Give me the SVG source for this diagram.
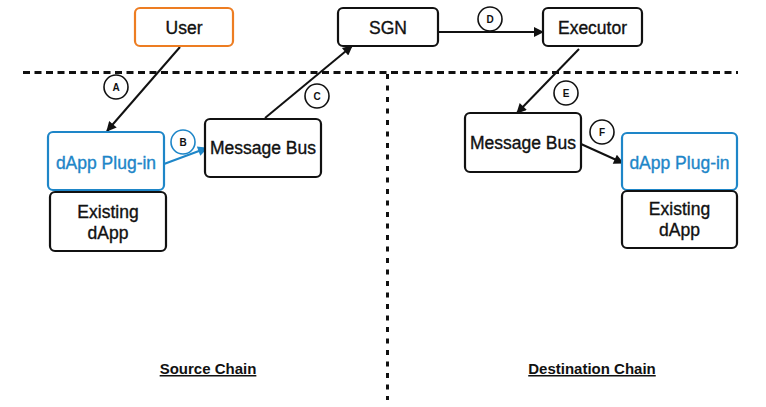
<svg xmlns="http://www.w3.org/2000/svg" width="766" height="407" viewBox="0 0 766 407">
<defs>
<style>
.box{fill:#fff;stroke:#111;stroke-width:2.2}
.orange{stroke:#ED7D22}
.blue{stroke:#1E86C8}
.t{font-family:"Liberation Sans",Arial,sans-serif;font-size:17.5px;fill:#111;stroke:#111;stroke-width:0.35;text-anchor:middle}
.tb{fill:#1E86C8;stroke:#1E86C8}
.c{fill:#fff;stroke:#111;stroke-width:1.6}
.cb{stroke:#1E86C8}
.cl{font-family:"Liberation Sans",Arial,sans-serif;font-size:10px;font-weight:bold;fill:#111;text-anchor:middle}
.ln{stroke:#111;stroke-width:2;fill:none}
.lb{stroke:#1E86C8}
.lab{font-family:"Liberation Sans",Arial,sans-serif;font-size:15px;font-weight:bold;fill:#111;text-anchor:middle;text-decoration:underline}
</style>
<marker id="ah" viewBox="0 0 10 10" refX="9" refY="5" markerWidth="6" markerHeight="5" orient="auto" markerUnits="strokeWidth">
<path d="M0,0 L10,5 L0,10 z" fill="#111"/>
</marker>
<marker id="ahb" viewBox="0 0 10 10" refX="9" refY="5" markerWidth="6" markerHeight="5" orient="auto" markerUnits="strokeWidth">
<path d="M0,0 L10,5 L0,10 z" fill="#1E86C8"/>
</marker>
</defs>
<rect width="766" height="407" fill="#fff"/>

<g id="dividers">
<line x1="23" y1="72.5" x2="738" y2="72.5" stroke="#111" stroke-width="3" stroke-dasharray="7 4.5"/>
<line x1="387.5" y1="74" x2="387.5" y2="400" stroke="#111" stroke-width="3" stroke-dasharray="5 6.5"/>
</g>

<g id="connectors">
<line class="ln" x1="180" y1="47" x2="107" y2="131" marker-end="url(#ah)"/>
<line class="ln lb" x1="164" y1="164" x2="207" y2="148" marker-end="url(#ahb)"/>
<line class="ln" x1="265" y1="118" x2="352" y2="46" marker-end="url(#ah)"/>
<line class="ln" x1="438" y1="32" x2="543" y2="32" marker-end="url(#ah)"/>
<line class="ln" x1="579" y1="49" x2="517" y2="113" marker-end="url(#ah)"/>
<line class="ln" x1="581" y1="144" x2="623" y2="163" marker-end="url(#ah)"/>
</g>

<g id="labels-circles">
<g id="circle-A"><circle class="c" cx="116" cy="87" r="12"/><text class="cl" x="116" y="90.5">A</text></g>
<g id="circle-B"><circle class="c cb" cx="183" cy="142" r="12"/><text class="cl" x="183" y="145.5">B</text></g>
<g id="circle-C"><circle class="c" cx="317" cy="96" r="12"/><text class="cl" x="317" y="99.5">C</text></g>
<g id="circle-D"><circle class="c" cx="490" cy="19" r="12"/><text class="cl" x="490" y="22.5">D</text></g>
<g id="circle-E"><circle class="c" cx="566" cy="93" r="12"/><text class="cl" x="566" y="96.5">E</text></g>
<g id="circle-F"><circle class="c" cx="602" cy="132" r="12"/><text class="cl" x="602" y="135.5">F</text></g>
</g>

<g id="user"><rect class="box orange" x="135" y="8" width="98" height="38" rx="5"/><text class="t" x="184" y="34">User</text></g>
<g id="sgn"><rect class="box" x="338" y="8" width="100" height="38" rx="5"/><text class="t" x="388" y="34">SGN</text></g>
<g id="executor"><rect class="box" x="543" y="8" width="99" height="38" rx="5"/><text class="t" x="592.5" y="34">Executor</text></g>

<g id="plugin-src"><rect class="box blue" x="48" y="132" width="116" height="58" rx="5"/><text class="t tb" x="106" y="169">dApp Plug-in</text></g>
<g id="existing-src"><rect class="box" x="50" y="192" width="116" height="59" rx="5"/><text class="t" x="108" y="218">Existing</text><text class="t" x="108" y="239">dApp</text></g>
<g id="bus-src"><rect class="box" x="205" y="119" width="116" height="58" rx="5"/><text class="t" x="263" y="154">Message Bus</text></g>

<g id="bus-dst"><rect class="box" x="465" y="113" width="116" height="59" rx="5"/><text class="t" x="523" y="149">Message Bus</text></g>
<g id="plugin-dst"><rect class="box blue" x="622" y="133" width="115" height="57" rx="5"/><text class="t tb" x="679.5" y="169">dApp Plug-in</text></g>
<g id="existing-dst"><rect class="box" x="622" y="191" width="115" height="57" rx="5"/><text class="t" x="679.5" y="215">Existing</text><text class="t" x="679.5" y="236">dApp</text></g>

<g id="chain-labels">
<text class="lab" x="208" y="374">Source Chain</text>
<text class="lab" x="592" y="374">Destination Chain</text>
</g>
</svg>
